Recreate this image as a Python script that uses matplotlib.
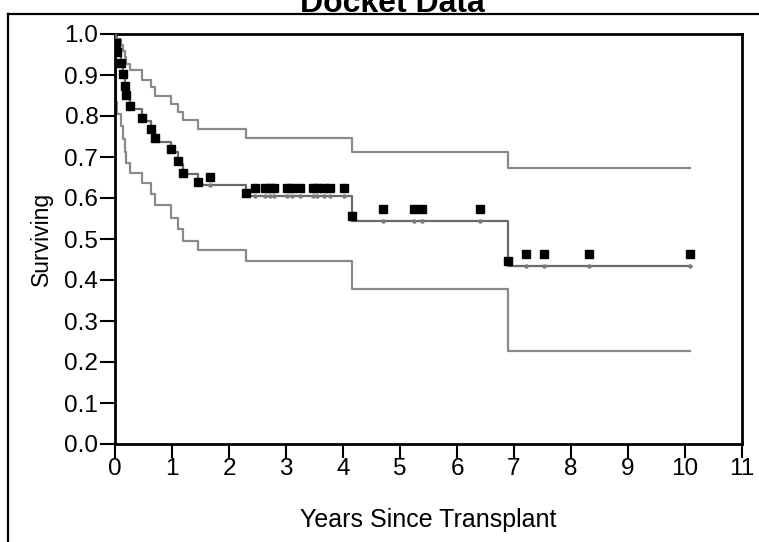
import matplotlib
matplotlib.use("Agg")
import matplotlib.pyplot as plt
from matplotlib.lines import Line2D
from matplotlib import font_manager
import numpy as np

# ---- data ----
event_times = [0.01, 0.03, 0.10, 0.146, 0.18, 0.19, 0.27, 0.468, 0.626, 0.708,
               0.98, 1.105, 1.187, 1.46, 2.30, 4.15, 6.90]
surv = [0.974, 0.947, 0.921, 0.895, 0.868, 0.842, 0.816, 0.789, 0.763, 0.737,
        0.711, 0.684, 0.658, 0.632, 0.604, 0.544, 0.435]
upper = [0.996, 0.988, 0.973, 0.959, 0.943, 0.928, 0.912, 0.889, 0.870, 0.850,
         0.830, 0.810, 0.790, 0.768, 0.746, 0.712, 0.673]
lower = [0.835, 0.805, 0.775, 0.745, 0.712, 0.685, 0.662, 0.637, 0.609, 0.583,
         0.550, 0.524, 0.495, 0.473, 0.446, 0.378, 0.228]
event_square = [0.979, 0.957, 0.930, 0.902, 0.873, 0.851, 0.824, 0.796, 0.768, 0.746,
                0.719, 0.690, 0.662, 0.640, 0.613, 0.557, 0.446]
censor_times = [1.66, 2.46, 2.64, 2.72, 2.79, 3.02, 3.10, 3.25, 3.48, 3.55, 3.66,
                3.77, 4.02, 4.70, 5.25, 5.38, 6.40, 7.21, 7.53, 8.32, 10.08]
censor_square = [0.652, 0.624, 0.624, 0.624, 0.624, 0.624, 0.624, 0.624, 0.624, 0.624,
                 0.624, 0.624, 0.624, 0.573, 0.573, 0.573, 0.573, 0.463, 0.463, 0.463, 0.463]
end_time = 10.09

x_ticks = list(range(0, 12))
y_ticks = [round(0.1 * i, 1) for i in range(11)]

# ---- fonts ----
def has_font(name):
    try:
        font_manager.findfont(font_manager.FontProperties(family=name), fallback_to_default=False)
        return True
    except Exception:
        return False

narrow = 'Liberation Sans Narrow' if has_font('Liberation Sans Narrow') else 'Liberation Sans'
plt.rcParams['font.family'] = ['Liberation Sans', 'DejaVu Sans']

# ---- figure ----
W, H = 759, 542
fig = plt.figure(figsize=(W / 100, H / 100), dpi=100)

L, R, T, B = 115, 742, 34, 444
ax = fig.add_axes([L / W, 1 - B / H, (R - L) / W, (B - T) / H])

def steps(vals):
    xs = [0.0] + event_times + [end_time]
    ys = [1.0] + vals + [vals[-1]]
    return xs, ys

ci_color = '#8a8a8a'
km_color = '#6a6a6a'
for v in (upper, lower):
    xs, ys = steps(v)
    ax.step(xs, ys, where='post', color=ci_color, lw=1.6, zorder=2)
xs, ys = steps(surv)
ax.step(xs, ys, where='post', color=km_color, lw=1.6, zorder=3)

# censor dots on the curve
st = np.array([0.0] + event_times)
sv = np.array([1.0] + surv)
cvals = sv[np.searchsorted(st, censor_times, side='right') - 1]
ax.plot(censor_times, cvals, 'o', color='#7a7a7a', ms=3.2, mec='none', zorder=4)

ax.plot(event_times, event_square, 's', color='black', ms=5.2, zorder=5)
ax.plot(censor_times, censor_square, 's', color='black', ms=5.2, zorder=5)

ax.set_xlim(0, 11)
ax.set_ylim(0, 1.0)
ax.set_xticks(x_ticks)
ax.set_yticks(y_ticks)
ax.set_xticklabels([str(v) for v in x_ticks], family=narrow, fontsize=17.5)
ax.set_yticklabels([f"{v:.1f}" for v in y_ticks], family=narrow, fontsize=17.5)
ax.tick_params(axis='x', direction='out', length=10, width=1.5, pad=0, color='black')
ax.tick_params(axis='y', direction='out', length=11, width=1.5, pad=1, color='black')
for s in ax.spines.values():
    s.set_linewidth(2.0)
    s.set_color('black')

ax.set_xlabel('Years Since Transplant', fontsize=18, family=narrow, labelpad=20)
ax.set_ylabel('Surviving', fontsize=16.5, family=narrow, labelpad=8)

# outer frame (clipped by the image edges)
fx = 8 / W
fy = 1 - 14 / H
fig.add_artist(Line2D([fx, fx], [0, fy], transform=fig.transFigure, color='black', lw=1.6))
fig.add_artist(Line2D([fx, 1.0], [fy, fy], transform=fig.transFigure, color='black', lw=1.6))

fig.text(392 / W, 1 - 12 / H, 'Docket Data', ha='center', va='baseline',
         fontsize=23, fontweight='bold')

fig.savefig('out.png', dpi=100)
